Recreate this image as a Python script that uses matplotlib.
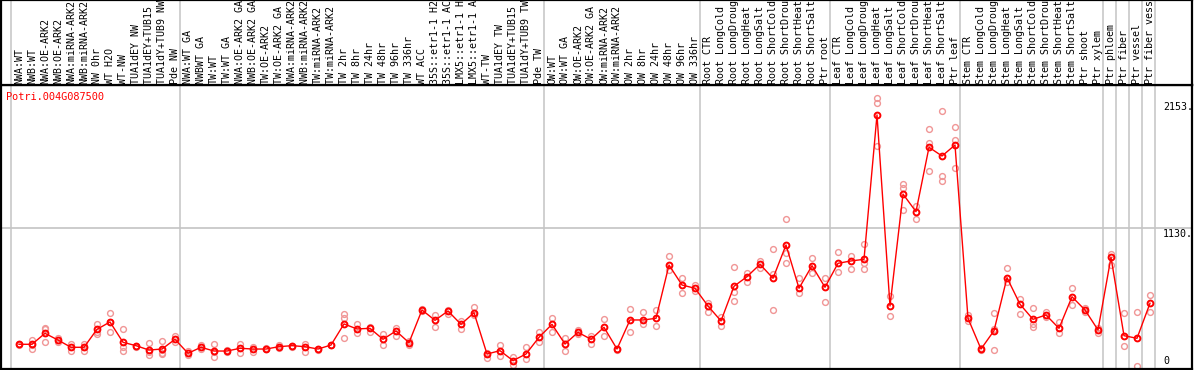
import numpy as np
import matplotlib
matplotlib.use('Agg')
from matplotlib import pyplot as plt

W, H = 1194, 370

gene = 'Potri.004G087500'

labels = [
    'NWA:WT', 'NWB:WT', 'NWA:OE-ARK2', 'NWB:OE-ARK2', 'NWA:miRNA-ARK2', 'NWB:miRNA-ARK2',
    'NW 0hr', 'WT H2O', 'WT-NW', 'TUA1dEY NW', 'TUA1dEY+TUB15 NW', 'TUA1dY+TUB9 NW', 'Pde NW',
    'NWA:WT GA', 'NWBWT GA', 'TW:WT', 'TW:WT GA', 'NWA:OE-ARK2 GA', 'NWB:OE-ARK2 GA',
    'TW:OE-ARK2', 'TW:OE-ARK2 GA', 'NWA:miRNA-ARK2 GA', 'NWB:miRNA-ARK2 GA', 'TW:miRNA-ARK2',
    'TW:miRNA-ARK2 GA', 'TW 2hr', 'TW 8hr', 'TW 24hr', 'TW 48hr', 'TW 96hr', 'TW 336hr',
    'WT ACC', '35S::etr1-1 H2O', '35S::etr1-1 ACC', 'LMX5::etr1-1 H2O', 'LMX5::etr1-1 ACC',
    'WT-TW', 'TUA1dEY TW', 'TUA1dEY+TUB15 TW', 'TUA1dY+TUB9 TW', 'Pde TW',
    'OW:WT', 'OW:WT GA', 'OW:OE-ARK2', 'OW:OE-ARK2 GA', 'OW:miRNA-ARK2', 'OW:miRNA-ARK2 GA',
    'OW 2hr', 'OW 8hr', 'OW 24hr', 'OW 48hr', 'OW 96hr', 'OW 336hr',
    'Root CTR', 'Root LongCold', 'Root LongDrought', 'Root LongHeat', 'Root LongSalt',
    'Root ShortCold', 'Root ShortDrought', 'Root ShortHeat', 'Root ShortSalt', 'Ptr root',
    'Leaf CTR', 'Leaf LongCold', 'Leaf LongDrought', 'Leaf LongHeat', 'Leaf LongSalt',
    'Leaf ShortCold', 'Leaf ShortDrought', 'Leaf ShortHeat', 'Leaf ShortSalt', 'Ptr leaf',
    'Stem CTR', 'Stem LongCold', 'Stem LongDrought', 'Stem LongHeat', 'Stem LongSalt',
    'Stem ShortCold', 'Stem ShortDrought', 'Stem ShortHeat', 'Stem ShortSalt', 'Ptr shoot',
    'Ptr xylem', 'Ptr phloem', 'Ptr fiber', 'Ptr vessel', 'Ptr fiber vessel',
]

means = [
    198, 198, 286, 232, 174, 174, 318, 377, 214, 187, 152, 160, 238,
    126, 174, 144, 144, 166, 160, 160, 179, 187, 179, 160, 192, 361, 321, 326, 238,
    305, 211, 473, 390, 465, 358, 451, 120, 147, 67, 120, 254,
    358, 200, 294, 238, 334, 160, 393, 393, 406, 833, 673, 647,
    505, 385, 663, 740, 839, 727, 994, 647, 828, 655,
    847, 866, 879, 2036, 505, 1402, 1261, 1777, 1707, 1795,
    406, 160, 307, 732, 519, 398, 433, 326, 579, 473, 313,
    895, 267, 246, 527,
]

reps = [
    [196, 200], [232, 195, 163], [331, 318, 216], [246, 220], [200, 147],
    [200, 174, 147], [361, 299, 280], [446, 377, 294], [318, 179, 147], [187, 176],
    [206, 134, 112], [224, 152, 126, 120], [264, 219],
    [144, 112], [192, 158], [198, 139, 99], [152, 139], [198, 126], [179, 139],
    [160, 165], [192, 166], [187, 180], [198, 139], [160, 155], [192, 190],
    [438, 406, 246], [361, 286], [299, 340], [280, 192], [331, 264], [227, 192],
    [481, 465], [433, 339], [473, 438], [385, 321], [494, 430], [86, 130],
    [192, 104], [99, 32], [179, 78], [299, 219],
    [406, 299], [246, 147], [313, 280], [264, 200], [398, 264], [160, 155],
    [478, 299], [454, 361], [473, 345], [906, 793], [727, 607], [673, 627],
    [527, 459], [345, 420], [815, 619, 545], [772, 700], [868, 812], [959, 759, 473],
    [1200, 927, 847], [727, 611], [892, 772], [727, 535],
    [935, 780], [908, 799], [1002, 847, 799], [2169, 2134, 1787], [585, 425],
    [1480, 1448, 1274], [1306, 1200], [1921, 1814, 1587], [2068, 1547, 1509],
    [1937, 1835, 1608],
    [433, 387], [171, 152], [446, 318, 152], [807, 700], [559, 441], [486, 361, 334],
    [459, 414], [379, 286], [647, 513], [486, 459], [291, 330],
    [922, 833], [446, 187], [454, 26], [593, 459],
]

# first index of each block (grey separators)
groups = [0, 13, 41, 53, 63, 73, 84, 85, 86, 87, 88]

ytick_vals = [2153, 1130, 0]
ytick_text = ['2153.', '1130.', '0']

red = '#ff0000'
pink = '#f09696'
grey = '#c4c4c4'
mono = 'DejaVu Sans Mono'

x = np.arange(len(means))

fig = plt.figure(figsize=(W / 100, H / 100), dpi=100)

def px_axes(x0, y0, x1, y1):
    return fig.add_axes([x0 / W, 1 - y1 / H, (x1 - x0) / W, (y1 - y0) / H])

xlim = ((1 - 19) / 13, (1192 - 19) / 13)

ax = px_axes(1, 85, 1192, 369)
ax.set_xlim(xlim)
ax.set_ylim(0, 2276)

for g in groups:
    ax.axvline(g - 0.62, color=grey, lw=1.1, zorder=0)
ax.axhline(1130, color=grey, lw=1.2, zorder=0)

for i, r in enumerate(reps):
    ax.plot([i] * len(r), r, 'o', ms=4.2, mfc='none', mec=pink, mew=1.0, zorder=2, clip_on=False)
ax.plot(x, means, '-', color=red, lw=1.0, zorder=3)
ax.plot(x, means, 'o', ms=4.2, mfc='none', mec=red, mew=1.4, zorder=4)

offs = [-5, -4.5, 5.5]
for v, t, o in zip(ytick_vals, ytick_text, offs):
    ax.annotate(t, (88.0, v), xytext=(0, o), textcoords='offset points',
                ha='left', va='center', fontsize=7.2, family=mono)

ax.set_xticks([])
ax.set_yticks([])
for s in ax.spines.values():
    s.set_linewidth(1.6)
    s.set_color('black')

fig.text(6 / W, 1 - 97 / H, gene, color=red, fontsize=7.4, family=mono,
         ha='left', va='center')

lab = px_axes(1, 0, 1192, 85)
lab.set_xlim(xlim)
lab.set_ylim(0, 85)
for g in groups:
    lab.axvline(g - 0.62, color=grey, lw=1.1, zorder=0)
for i, t in enumerate(labels):
    lab.text(i, 1.5, t, rotation=90, ha='center', va='bottom', fontsize=7.2,
             family=mono, clip_on=True)
lab.set_xticks([])
lab.set_yticks([])
for s in lab.spines.values():
    s.set_linewidth(1.6)
    s.set_color('black')

fig.savefig('out.png', dpi=100)
